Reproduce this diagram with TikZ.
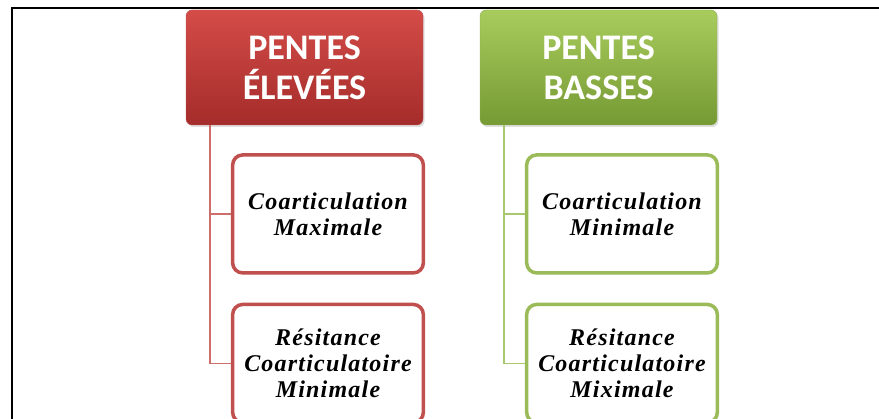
\documentclass[tikz,border=0pt]{standalone}
\usepackage{fontspec}
\usepackage{tikz}
\usetikzlibrary{positioning, shadows}
\newfontfamily\headfont{Carlito}
\newfontfamily\leaffont[LetterSpace=5]{Liberation Serif}

\definecolor{redmid}{RGB}{192,80,77}
\definecolor{redtop}{RGB}{212,76,72}
\definecolor{redbot}{RGB}{164,44,42}
\definecolor{redline}{RGB}{205,110,108}
\definecolor{greenmid}{RGB}{155,187,89}
\definecolor{greentop}{RGB}{168,204,92}
\definecolor{greenbot}{RGB}{118,154,52}
\definecolor{greenline}{RGB}{170,200,110}

\tikzset{
headbox/.style={rectangle, rounded corners=6pt,
minimum width=237pt,
minimum height=115pt,
text centered,
text width=220pt,
text=white,
font=\headfont\bfseries\fontsize{36}{40}\selectfont,
drop shadow={opacity=0.25, shadow xshift=1.5pt, shadow yshift=-2pt}},
redhead/.style={headbox, top color=redtop, bottom color=redbot, draw=redbot!80},
greenhead/.style={headbox, top color=greentop, bottom color=greenbot, draw=greenbot!80},
leafbox/.style={rectangle, rounded corners=10pt,
minimum width=188pt,
minimum height=118pt,
line width=3.5pt,
fill=white,
text centered,
text width=184pt,
font=\leaffont\bfseries\itshape\fontsize{24}{26}\selectfont,
drop shadow={opacity=0.15, shadow xshift=1pt, shadow yshift=-1.5pt}},
redleaf/.style={leafbox, draw=redmid},
greenleaf/.style={leafbox, draw=greenmid},
redlink/.style={draw=redline, line width=1.6pt},
greenlink/.style={draw=greenline, line width=1.6pt}
}

\begin{document}
\begin{tikzpicture}[x=1pt, y=-1pt, node distance=28pt]

\useasboundingbox (0,0) rectangle (879,419);
% frame
\draw[line width=2.5pt] (12,425) -- (12,8) -- (885,8);

% left column
\node (highslope) [redhead] at (304.5,67.5)
{PENTES\\ÉLEVÉES};
\node (redmax) [redleaf, below=28pt of highslope, xshift=23.5pt]
{Coarticulation\\Maximale};
\node (redmin) [redleaf, below=28pt of redmax]
{Résitance\\Coarticulatoire\\Minimale};

% right column
\node (lowslope) [greenhead] at (598.5,67.5)
{PENTES\\BASSES};
\node (greenmin) [greenleaf, below=28pt of lowslope, xshift=23.5pt]
{Coarticulation\\Minimale};
\node (greenmix) [greenleaf, below=28pt of greenmin]
{Résitance\\Coarticulatoire\\Miximale};

% links
\draw [redlink] ([xshift=24pt]highslope.south west) |- (redmax.west);
\draw [redlink] ([xshift=24pt]highslope.south west) |- (redmin.west);
\draw [greenlink] ([xshift=24pt]lowslope.south west) |- (greenmin.west);
\draw [greenlink] ([xshift=24pt]lowslope.south west) |- (greenmix.west);

\end{tikzpicture}
\end{document}
